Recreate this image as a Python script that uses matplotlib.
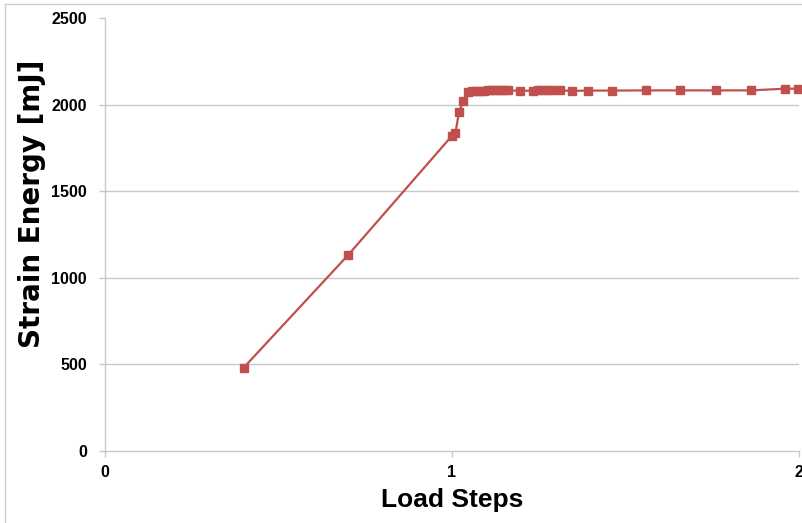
import matplotlib.pyplot as plt
from matplotlib.lines import Line2D

# load step vs strain energy
load_steps = [0.40, 0.70, 1.000, 1.010, 1.020, 1.032, 1.046, 1.058, 1.069, 1.081,
              1.092, 1.104, 1.115, 1.127, 1.138, 1.150, 1.161, 1.196, 1.233, 1.248,
              1.262, 1.277, 1.291, 1.311, 1.346, 1.392, 1.461, 1.559, 1.657, 1.761,
              1.862, 1.960, 1.997]
strain_energy = [482, 1130, 1820, 1838, 1955, 2018, 2075, 2078, 2078, 2080,
                 2080, 2082, 2082, 2083, 2083, 2082, 2082, 2080, 2080, 2082,
                 2083, 2083, 2082, 2082, 2079, 2081, 2081, 2082, 2082, 2082,
                 2082, 2092, 2092]

x_ticks = [0, 1, 2]
y_ticks = [0, 500, 1000, 1500, 2000, 2500]

plt.rcParams['font.family'] = ['Liberation Sans', 'DejaVu Sans']

fig = plt.figure(figsize=(8.02, 5.23), dpi=100)
ax = fig.add_axes([105 / 802, 1 - 451 / 523, 694 / 802, 433 / 523])

grid_c = '#c8c8c8'
red = '#c0504d'

ax.plot(load_steps, strain_energy, color=red, lw=1.6, marker='s',
        markersize=6.2, markerfacecolor=red, markeredgecolor=red,
        clip_on=False, zorder=3)

ax.set_xlim(0, 2)
ax.set_ylim(0, 2500)
ax.set_xticks(x_ticks)
ax.set_yticks(y_ticks)
ax.set_xticklabels([str(v) for v in x_ticks], fontweight='bold', fontsize=11.5)
ax.set_yticklabels([str(v) for v in y_ticks], fontweight='bold', fontsize=11.5)

for y in y_ticks[1:-1]:
    ax.axhline(y, color=grid_c, lw=1, zorder=1)

for s in ['top', 'right']:
    ax.spines[s].set_visible(False)
for s in ['left', 'bottom']:
    ax.spines[s].set_color(grid_c)
    ax.spines[s].set_linewidth(1)

ax.tick_params(axis='both', colors=grid_c, length=4, width=1, labelcolor='#000000')
ax.tick_params(axis='y', pad=9)
ax.tick_params(axis='x', pad=6)

ax.set_xlabel('Load Steps', fontsize=19, fontweight='bold', labelpad=6)
ax.set_ylabel('Strain Energy [mJ]', fontsize=20, fontweight='bold',
              family=['DejaVu Sans'], va='center')
ax.yaxis.set_label_coords((32 - 105) / 694, (451 - 204) / 433)

# outer frame of the original chart area (left and top edges)
fig.add_artist(Line2D([4.5 / 802, 4.5 / 802], [0, 1 - 3.5 / 523], color='#d0d0d0', lw=1))
fig.add_artist(Line2D([4.5 / 802, 1], [1 - 3.5 / 523, 1 - 3.5 / 523], color='#d0d0d0', lw=1))

fig.savefig('out.png', dpi=100)
